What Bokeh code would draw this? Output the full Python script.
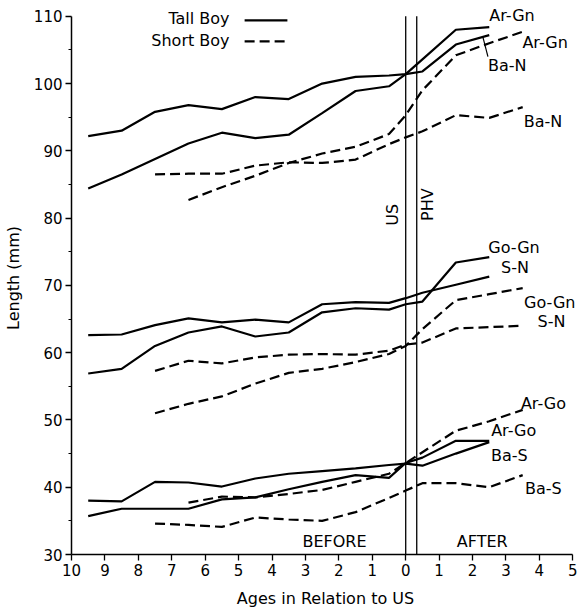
from bokeh.plotting import figure
from bokeh.models import Range1d, FixedTicker, Label
from bokeh.embed import file_html
from bokeh.resources import INLINE

# ---------------- data (years relative to US; negative = before) ----------------
tall_x = [-9.5, -8.5, -7.5, -6.5, -5.5, -4.5, -3.5, -2.5, -1.5, -0.5, 0, 0.5, 1.5, 2.5]
short_x = [-7.5, -6.5, -5.5, -4.5, -3.5, -2.5, -1.5, -0.5, 0, 0.5, 1.5, 2.5, 3.5]
short_x_from65 = short_x[1:]

tall_ar_gn = [92.2, 93.0, 95.8, 96.8, 96.2, 98.0, 97.7, 100.0, 101.0, 101.2, 101.4, 103.6, 108.0, 108.4]
tall_ba_n = [84.4, 86.5, 88.8, 91.1, 92.7, 91.9, 92.4, 95.6, 98.9, 99.6, 101.4, 101.8, 105.8, 107.2]
tall_go_gn = [56.9, 57.6, 61.0, 63.0, 63.9, 62.4, 63.0, 66.0, 66.6, 66.4, 67.2, 67.6, 73.4, 74.2]
tall_s_n = [62.6, 62.7, 64.1, 65.1, 64.5, 64.9, 64.5, 67.2, 67.5, 67.4, 68.1, 68.9, 70.1, 71.3]
tall_ar_go = [35.7, 36.8, 36.8, 36.8, 38.2, 38.5, 39.7, 40.8, 41.8, 41.4, 43.6, 44.4, 46.9, 46.9]
tall_ba_s = [38.0, 37.9, 40.8, 40.7, 40.1, 41.3, 42.0, 42.4, 42.8, 43.3, 43.5, 43.2, 45.0, 46.7]

short_ar_gn = [82.7, 84.6, 86.3, 88.2, 89.6, 90.6, 92.5, 95.3, 99.0, 104.2, 106.0, 107.7]          # from -6.5
short_ba_n = [86.5, 86.6, 86.6, 87.8, 88.3, 88.2, 88.7, 91.0, 92.0, 92.9, 95.3, 94.9, 96.5]
short_go_gn = [51.0, 52.4, 53.5, 55.4, 57.0, 57.6, 58.6, 59.8, 61.0, 63.5, 67.8, 68.7, 69.6]
short_s_n = [57.3, 58.8, 58.4, 59.3, 59.7, 59.8, 59.7, 60.3, 61.2, 61.5, 63.6, 63.8, 64.0]
short_ar_go = [37.7, 38.6, 38.5, 39.0, 39.6, 40.8, 42.0, 43.6, 45.2, 48.4, 49.8, 51.5]            # from -6.5
short_ba_s = [34.6, 34.4, 34.1, 35.5, 35.2, 35.0, 36.3, 38.4, 39.5, 40.6, 40.6, 40.0, 41.8]

x_ticks = list(range(-10, 6))
x_tick_labels = [str(abs(t)) for t in x_ticks]
y_ticks = list(range(30, 111, 10))
y_minor = list(range(35, 110, 10))

US_X = 0.0
PHV_X = 0.33

FONT = "DejaVu Sans"

# ---------------- figure ----------------
p = figure(width=579, height=612, output_backend="svg", toolbar_location=None,
           x_range=Range1d(-10, 5.2), y_range=Range1d(30, 112.2),
           min_border_left=68, min_border_right=0, min_border_top=1, min_border_bottom=58)
p.outline_line_color = None
p.xgrid.visible = False
p.ygrid.visible = False
p.background_fill_color = "white"
p.border_fill_color = "white"

# axes
xa = p.xaxis[0]
xa.ticker = FixedTicker(ticks=x_ticks)
xa.bounds = (x_ticks[0], x_ticks[-1])
xa.major_label_overrides = dict(zip(x_ticks, x_tick_labels))
xa.axis_label = "Ages in Relation to US"
xa.axis_label_text_font = FONT
xa.axis_label_text_font_style = "normal"
xa.axis_label_text_font_size = "16px"
xa.axis_label_standoff = 10
xa.major_label_text_font = FONT
xa.major_label_text_font_size = "15px"
xa.major_label_standoff = 3
xa.major_tick_out = 6
xa.major_tick_in = 0
xa.minor_tick_out = 0
xa.minor_tick_in = 0
xa.axis_line_width = 1.5
xa.major_tick_line_width = 1.3
xa.axis_line_color = "black"
xa.major_label_text_color = "black"
xa.axis_label_text_color = "black"

ya = p.yaxis[0]
ya.ticker = FixedTicker(ticks=y_ticks, minor_ticks=y_minor)
ya.bounds = (y_ticks[0], y_ticks[-1])
ya.axis_label = "Length (mm)"
ya.axis_label_text_font = FONT
ya.axis_label_text_font_style = "normal"
ya.axis_label_text_font_size = "16px"
ya.axis_label_standoff = 8
ya.major_label_text_font = FONT
ya.major_label_text_font_size = "15px"
ya.major_label_standoff = 3
ya.major_tick_out = 6
ya.major_tick_in = 0
ya.minor_tick_out = 3
ya.minor_tick_in = 0
ya.axis_line_width = 1.5
ya.major_tick_line_width = 1.3
ya.axis_line_color = "black"
ya.major_label_text_color = "black"
ya.axis_label_text_color = "black"

# reference lines (US and PHV), spanning the y axis extent
p.segment(x0=[US_X, PHV_X], y0=[y_ticks[0]] * 2, x1=[US_X, PHV_X], y1=[y_ticks[-1]] * 2,
          line_color="black", line_width=1.3)

LW = 2.2
DASH = "10 5"
for ys in (tall_ar_gn, tall_ba_n, tall_go_gn, tall_s_n, tall_ar_go, tall_ba_s):
    p.line(tall_x, ys, line_color="black", line_width=LW)
for xs, ys in ((short_x_from65, short_ar_gn), (short_x, short_ba_n), (short_x, short_go_gn),
               (short_x, short_s_n), (short_x_from65, short_ar_go), (short_x, short_ba_s)):
    p.line(xs, ys, line_color="black", line_width=LW, line_dash=DASH)

# leader line for tall Ba-N label
p.segment(x0=[2.31], y0=[106.9], x1=[2.46], y1=[104.0], line_color="black", line_width=1.2)

# legend (text left, line sample right)
legend_items = [("Tall Boy", "solid", 109.7, 109.4), ("Short Boy", DASH, 106.43, 106.28)]
for txt, dash, ty, ly in legend_items:
    p.add_layout(Label(x=-5.27, y=ty, text=txt, text_align="right", text_baseline="middle",
                       text_font=FONT, text_font_size="16px", text_color="black"))
    p.line([-4.82, -3.54], [ly, ly], line_color="black", line_width=LW, line_dash=dash)

# curve labels
labels = [
    ("Ar-Gn", 3.18, 110.15), ("Ar-Gn", 4.17, 106.06), ("Ba-N", 3.04, 102.7), ("Ba-N", 4.11, 94.4),
    ("Go-Gn", 3.24, 75.7), ("S-N", 3.27, 72.6), ("Go-Gn", 4.31, 67.5), ("S-N", 4.36, 64.6),
    ("Ar-Go", 4.12, 52.5), ("Ar-Go", 3.23, 48.5), ("Ba-S", 3.10, 44.7), ("Ba-S", 4.12, 39.8),
    ("BEFORE", -2.13, 32.0), ("AFTER", 2.29, 32.0),
]
for txt, lx, ly in labels:
    p.add_layout(Label(x=lx, y=ly, text=txt, text_align="center", text_baseline="middle",
                       text_font=FONT, text_font_size="16px", text_color="black"))

# rotated US / PHV labels
p.add_layout(Label(x=-0.39, y=80.5, text="US", angle=1.5708, text_align="center",
                   text_baseline="middle", text_font=FONT, text_font_size="16px", text_color="black"))
p.add_layout(Label(x=0.65, y=82.0, text="PHV", angle=1.5708, text_align="center",
                   text_baseline="middle", text_font=FONT, text_font_size="16px", text_color="black"))

open("out.html", "w").write(file_html(p, INLINE))
